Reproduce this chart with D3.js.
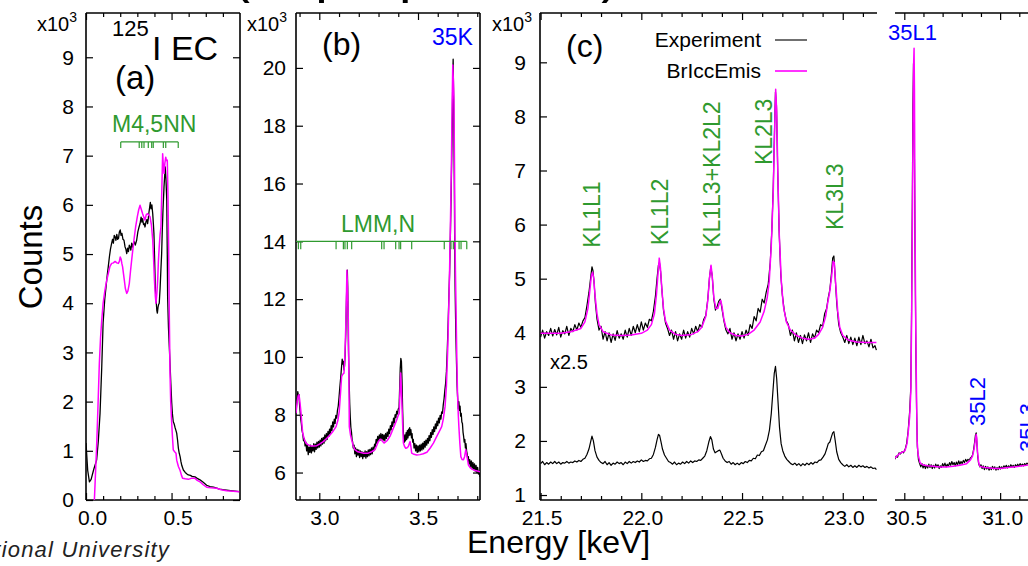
<!DOCTYPE html>
<html><head><meta charset="utf-8">
<script src="https://cdn.jsdelivr.net/npm/d3@7"></script>
<style>body{margin:0;background:#fff}svg{display:block}</style>
</head><body>
<script>
// ---------- DATA (energy keV, counts x10^3) ----------
const aExp = [[0.000,1.16],[0.010,0.60],[0.020,0.37],[0.030,0.42],[0.045,0.62],[0.062,0.81],[0.072,1.20],[0.082,1.76],[0.092,2.70],[0.100,3.60],[0.110,4.10],[0.117,4.33],[0.125,4.60],[0.130,4.74],[0.137,4.95],[0.143,5.10],[0.150,5.22],[0.155,5.30],[0.160,5.22],[0.165,5.38],[0.170,5.35],[0.175,5.28],[0.180,5.40],[0.185,5.30],[0.190,5.32],[0.195,5.45],[0.200,5.49],[0.205,5.38],[0.210,5.42],[0.216,5.30],[0.222,5.28],[0.228,5.15],[0.233,5.10],[0.238,5.01],[0.243,5.12],[0.248,5.05],[0.253,5.18],[0.257,5.15],[0.262,5.08],[0.267,5.22],[0.272,5.14],[0.276,5.20],[0.282,5.25],[0.288,5.18],[0.296,5.28],[0.303,5.45],[0.310,5.55],[0.316,5.62],[0.322,5.75],[0.327,5.65],[0.331,5.72],[0.336,5.60],[0.340,5.62],[0.345,5.55],[0.350,5.65],[0.356,5.70],[0.360,5.62],[0.364,5.72],[0.368,5.85],[0.372,5.95],[0.376,6.05],[0.380,5.92],[0.385,6.00],[0.390,5.82],[0.394,5.60],[0.397,5.42],[0.401,4.90],[0.405,4.33],[0.410,4.05],[0.414,3.85],[0.417,3.80],[0.421,3.92],[0.425,3.98],[0.428,4.00],[0.433,4.30],[0.438,4.70],[0.442,5.00],[0.446,5.50],[0.450,5.90],[0.456,6.37],[0.460,6.60],[0.463,6.77],[0.467,6.55],[0.472,6.10],[0.475,5.00],[0.477,4.13],[0.482,3.50],[0.487,3.10],[0.491,2.78],[0.496,2.35],[0.501,1.97],[0.505,1.75],[0.510,1.59],[0.515,1.55],[0.520,1.48],[0.525,1.42],[0.530,1.36],[0.535,1.22],[0.540,1.05],[0.545,0.95],[0.550,0.88],[0.555,0.78],[0.560,0.70],[0.569,0.61],[0.580,0.56],[0.590,0.53],[0.598,0.51],[0.610,0.50],[0.620,0.48],[0.637,0.47],[0.650,0.44],[0.666,0.41],[0.685,0.36],[0.705,0.30],[0.725,0.27],[0.745,0.26],[0.764,0.24],[0.780,0.22],[0.800,0.21],[0.822,0.20],[0.845,0.19],[0.870,0.18],[0.896,0.17]];
const aCalc = [[0.049,0.00],[0.055,0.50],[0.062,1.08],[0.070,1.90],[0.078,2.78],[0.085,3.30],[0.092,3.66],[0.100,4.00],[0.111,4.27],[0.120,4.45],[0.130,4.60],[0.140,4.75],[0.150,4.81],[0.160,4.82],[0.170,4.85],[0.180,4.82],[0.189,4.81],[0.195,4.85],[0.200,4.94],[0.205,4.90],[0.210,4.80],[0.214,4.74],[0.219,4.60],[0.224,4.47],[0.230,4.30],[0.238,4.20],[0.245,4.25],[0.253,4.40],[0.260,4.65],[0.267,4.88],[0.274,5.10],[0.280,5.28],[0.290,5.55],[0.300,5.76],[0.308,5.90],[0.316,5.99],[0.322,5.92],[0.331,5.82],[0.338,5.75],[0.345,5.69],[0.352,5.80],[0.358,5.82],[0.365,5.80],[0.374,5.76],[0.382,5.60],[0.390,5.28],[0.395,4.90],[0.400,4.47],[0.405,4.15],[0.409,4.00],[0.414,4.20],[0.419,4.47],[0.423,4.85],[0.428,5.15],[0.433,5.40],[0.438,5.55],[0.443,6.30],[0.448,7.04],[0.452,6.80],[0.456,6.64],[0.461,6.85],[0.466,6.97],[0.470,6.90],[0.475,6.91],[0.479,6.20],[0.483,5.15],[0.487,3.70],[0.491,2.58],[0.495,2.00],[0.500,1.62],[0.505,1.30],[0.510,1.02],[0.518,0.98],[0.526,0.95],[0.530,0.81],[0.540,0.68],[0.550,0.60],[0.558,0.50],[0.565,0.44],[0.580,0.43],[0.598,0.42],[0.615,0.44],[0.637,0.44],[0.650,0.40],[0.666,0.37],[0.685,0.31],[0.705,0.26],[0.730,0.25],[0.764,0.24],[0.790,0.21],[0.822,0.19],[0.860,0.18],[0.896,0.17]];

const bExp = [[2.882,8.05],[2.885,8.35],[2.888,8.55],[2.891,8.80],[2.894,8.62],[2.897,8.70],[2.900,8.35],[2.903,8.10],[2.906,7.85],[2.909,7.70],[2.912,7.48],[2.916,7.35],[2.920,7.10],[2.924,7.18],[2.928,6.92],[2.932,7.05],[2.936,6.75],[2.940,6.95],[2.944,6.62],[2.948,6.88],[2.952,6.70],[2.956,6.95],[2.960,6.68],[2.964,6.90],[2.968,6.75],[2.972,7.00],[2.976,6.72],[2.980,6.98],[2.984,6.80],[2.988,7.05],[2.992,6.85],[2.996,7.08],[3.000,6.88],[3.004,7.12],[3.008,6.92],[3.012,7.18],[3.016,6.98],[3.020,7.22],[3.024,7.02],[3.028,7.30],[3.032,7.10],[3.036,7.35],[3.040,7.15],[3.044,7.42],[3.048,7.25],[3.052,7.50],[3.056,7.35],[3.060,7.62],[3.064,7.45],[3.068,7.75],[3.072,7.58],[3.076,7.85],[3.080,7.70],[3.084,7.98],[3.088,7.88],[3.092,8.15],[3.096,8.30],[3.100,8.60],[3.104,8.95],[3.108,9.25],[3.112,9.60],[3.116,9.92],[3.119,9.75],[3.122,9.85],[3.125,9.55],[3.128,9.70],[3.131,10.10],[3.134,10.80],[3.137,11.80],[3.140,12.70],[3.142,13.00],[3.144,12.40],[3.146,11.30],[3.148,10.20],[3.151,9.20],[3.154,8.40],[3.157,7.90],[3.160,7.55],[3.163,7.40],[3.166,7.15],[3.169,7.05],[3.172,6.85],[3.176,6.95],[3.180,6.65],[3.184,6.85],[3.188,6.55],[3.192,6.80],[3.196,6.60],[3.200,6.78],[3.204,6.52],[3.208,6.75],[3.212,6.55],[3.216,6.72],[3.220,6.48],[3.224,6.70],[3.228,6.55],[3.232,6.75],[3.236,6.50],[3.240,6.72],[3.244,6.55],[3.248,6.78],[3.252,6.58],[3.256,6.80],[3.260,6.62],[3.264,6.85],[3.268,6.65],[3.272,6.88],[3.276,6.75],[3.280,6.98],[3.284,6.90],[3.288,7.15],[3.292,7.02],[3.296,7.25],[3.300,7.08],[3.304,7.30],[3.308,7.12],[3.312,7.35],[3.316,7.15],[3.320,7.32],[3.324,7.12],[3.328,7.30],[3.332,7.10],[3.336,7.35],[3.340,7.18],[3.344,7.40],[3.348,7.25],[3.352,7.50],[3.356,7.35],[3.360,7.62],[3.364,7.48],[3.368,7.75],[3.372,7.60],[3.376,7.88],[3.380,7.72],[3.384,8.00],[3.388,7.90],[3.392,8.12],[3.396,8.02],[3.400,8.20],[3.404,8.25],[3.407,8.90],[3.410,9.60],[3.413,9.95],[3.416,9.85],[3.419,9.20],[3.422,8.20],[3.425,7.50],[3.428,7.15],[3.431,7.05],[3.434,7.30],[3.437,7.10],[3.440,7.38],[3.443,7.15],[3.446,7.45],[3.449,7.20],[3.452,7.50],[3.455,7.28],[3.458,7.55],[3.461,7.30],[3.464,7.48],[3.467,7.20],[3.470,7.35],[3.473,7.05],[3.476,7.15],[3.480,6.85],[3.484,7.00],[3.488,6.75],[3.492,6.95],[3.496,6.70],[3.500,6.92],[3.504,6.72],[3.508,6.95],[3.512,6.75],[3.516,6.98],[3.520,6.78],[3.524,7.02],[3.528,6.82],[3.532,7.08],[3.536,6.88],[3.540,7.12],[3.544,6.95],[3.548,7.18],[3.552,7.02],[3.556,7.28],[3.560,7.10],[3.564,7.38],[3.568,7.22],[3.572,7.48],[3.576,7.32],[3.580,7.58],[3.584,7.42],[3.588,7.68],[3.592,7.52],[3.596,7.78],[3.600,7.62],[3.604,7.88],[3.608,7.72],[3.612,7.98],[3.616,7.85],[3.620,8.10],[3.624,8.05],[3.628,8.35],[3.632,8.55],[3.636,8.85],[3.640,9.10],[3.644,9.50],[3.648,10.20],[3.652,11.00],[3.656,12.00],[3.660,12.90],[3.664,14.20],[3.668,15.70],[3.671,17.00],[3.674,18.30],[3.676,19.60],[3.678,20.30],[3.680,19.20],[3.682,17.70],[3.684,16.00],[3.686,13.80],[3.688,12.40],[3.690,11.50],[3.692,10.70],[3.695,9.80],[3.698,9.00],[3.701,8.55],[3.704,8.20],[3.707,8.45],[3.710,8.15],[3.713,8.30],[3.716,7.95],[3.719,8.05],[3.722,7.75],[3.725,7.70],[3.728,7.40],[3.731,7.25],[3.734,7.05],[3.737,7.15],[3.740,6.85],[3.743,7.00],[3.746,6.75],[3.749,6.65],[3.752,6.45],[3.755,6.55],[3.758,6.30],[3.762,6.45],[3.766,6.20],[3.770,6.40],[3.774,6.15],[3.778,6.35],[3.782,6.10],[3.786,6.30],[3.790,6.05],[3.794,6.25],[3.798,6.00],[3.802,6.18],[3.806,5.95],[3.810,6.05],[3.814,5.85]];
const bCalc = [[2.882,8.05],[2.888,8.45],[2.893,8.65],[2.897,8.69],[2.900,8.55],[2.906,8.17],[2.911,7.75],[2.916,7.36],[2.924,7.15],[2.933,7.02],[2.943,6.96],[2.953,6.93],[2.970,6.92],[2.987,6.93],[3.003,6.99],[3.020,7.07],[3.037,7.18],[3.054,7.30],[3.070,7.43],[3.085,7.59],[3.094,7.80],[3.101,8.11],[3.107,8.70],[3.113,9.32],[3.119,9.40],[3.125,9.44],[3.130,10.10],[3.135,11.28],[3.138,12.30],[3.140,13.00],[3.143,12.40],[3.147,11.28],[3.150,9.30],[3.152,7.59],[3.158,7.30],[3.164,7.13],[3.172,6.92],[3.180,6.79],[3.192,6.73],[3.205,6.70],[3.225,6.67],[3.248,6.67],[3.265,6.72],[3.282,6.79],[3.290,6.92],[3.299,7.07],[3.306,7.14],[3.313,7.15],[3.320,7.08],[3.328,7.02],[3.343,7.10],[3.358,7.25],[3.370,7.45],[3.382,7.65],[3.392,7.82],[3.400,7.98],[3.405,8.05],[3.409,8.90],[3.412,9.44],[3.415,9.00],[3.419,8.28],[3.423,7.50],[3.426,7.02],[3.432,6.90],[3.438,6.84],[3.445,6.86],[3.451,6.90],[3.456,7.00],[3.460,7.07],[3.464,6.90],[3.468,6.67],[3.480,6.63],[3.493,6.61],[3.510,6.62],[3.527,6.65],[3.545,6.70],[3.561,6.84],[3.578,7.02],[3.595,7.25],[3.610,7.45],[3.620,7.59],[3.628,7.85],[3.637,8.28],[3.644,9.00],[3.651,10.36],[3.655,11.50],[3.659,12.66],[3.664,14.50],[3.669,16.58],[3.673,18.80],[3.676,20.10],[3.679,19.60],[3.682,18.90],[3.685,16.50],[3.687,14.28],[3.690,12.80],[3.693,11.50],[3.697,9.80],[3.700,8.74],[3.704,8.00],[3.707,7.59],[3.712,7.00],[3.717,6.55],[3.723,6.45],[3.730,6.44],[3.736,6.55],[3.742,6.79],[3.747,6.60],[3.755,6.27],[3.763,6.18],[3.772,6.12],[3.790,6.07],[3.814,6.03]];

const cExp = [[21.500,3.92],[21.510,4.05],[21.520,3.90],[21.530,4.02],[21.540,3.95],[21.550,4.08],[21.560,3.94],[21.570,4.06],[21.580,3.96],[21.590,4.10],[21.600,3.92],[21.610,4.04],[21.620,3.98],[21.630,4.12],[21.640,3.95],[21.650,4.08],[21.660,4.02],[21.670,4.15],[21.680,4.05],[21.690,4.18],[21.700,4.10],[21.710,4.22],[21.720,4.28],[21.730,4.50],[21.740,4.75],[21.748,5.00],[21.755,5.22],[21.760,5.15],[21.766,4.90],[21.772,4.55],[21.780,4.25],[21.790,4.05],[21.800,4.12],[21.810,3.88],[21.820,4.02],[21.830,3.85],[21.840,4.00],[21.850,3.82],[21.860,3.98],[21.870,3.86],[21.880,4.04],[21.890,3.90],[21.900,3.98],[21.910,3.88],[21.920,4.05],[21.930,3.92],[21.940,4.08],[21.950,3.95],[21.960,4.12],[21.970,4.00],[21.980,4.15],[21.990,4.02],[22.000,4.20],[22.010,4.05],[22.020,4.18],[22.030,4.10],[22.040,4.25],[22.050,4.22],[22.060,4.40],[22.070,4.68],[22.078,5.00],[22.085,5.25],[22.090,5.30],[22.096,5.12],[22.102,4.80],[22.110,4.42],[22.120,4.18],[22.130,4.08],[22.140,3.95],[22.150,4.05],[22.160,3.88],[22.170,4.02],[22.180,3.85],[22.190,3.98],[22.200,3.88],[22.210,4.05],[22.220,3.90],[22.230,4.02],[22.240,3.92],[22.250,4.08],[22.260,3.98],[22.270,4.12],[22.280,4.02],[22.290,4.15],[22.300,4.10],[22.310,4.25],[22.320,4.32],[22.330,4.62],[22.338,5.00],[22.345,5.22],[22.352,5.05],[22.360,4.62],[22.368,4.42],[22.376,4.48],[22.384,4.58],[22.392,4.62],[22.400,4.45],[22.410,4.22],[22.420,4.05],[22.430,3.98],[22.440,4.08],[22.450,3.88],[22.460,4.00],[22.470,3.85],[22.480,3.98],[22.490,3.88],[22.500,4.02],[22.510,3.90],[22.520,4.05],[22.530,3.95],[22.540,4.15],[22.550,4.08],[22.560,4.30],[22.570,4.22],[22.580,4.45],[22.590,4.38],[22.600,4.62],[22.610,4.55],[22.620,4.75],[22.630,4.90],[22.640,5.30],[22.648,5.90],[22.655,6.70],[22.661,7.70],[22.666,8.45],[22.671,8.20],[22.677,7.00],[22.684,5.90],[22.692,5.10],[22.700,4.70],[22.710,4.40],[22.720,4.22],[22.730,4.15],[22.740,3.95],[22.750,4.05],[22.760,3.85],[22.770,4.00],[22.780,3.82],[22.790,3.95],[22.800,3.80],[22.810,3.96],[22.820,3.85],[22.830,4.00],[22.840,3.82],[22.850,3.98],[22.860,3.90],[22.870,4.05],[22.880,4.00],[22.890,4.15],[22.900,4.12],[22.910,4.35],[22.920,4.45],[22.928,4.65],[22.936,4.80],[22.944,5.10],[22.950,5.38],[22.956,5.42],[22.962,5.05],[22.970,4.55],[22.980,4.15],[22.990,4.00],[23.000,3.92],[23.010,3.82],[23.020,3.95],[23.030,3.80],[23.040,3.92],[23.050,3.78],[23.060,3.90],[23.070,3.76],[23.080,3.92],[23.090,3.78],[23.100,3.95],[23.110,3.80],[23.120,3.85],[23.130,3.74],[23.140,3.88],[23.150,3.72],[23.160,3.76],[23.167,3.68]];
const cCalc = [[21.500,3.99],[21.600,3.99],[21.650,4.02],[21.700,4.08],[21.720,4.20],[21.735,4.45],[21.745,4.80],[21.752,5.05],[21.758,5.12],[21.764,5.00],[21.770,4.70],[21.780,4.35],[21.790,4.15],[21.810,4.02],[21.850,3.96],[21.900,3.95],[21.950,3.96],[22.000,3.99],[22.030,4.05],[22.050,4.15],[22.065,4.35],[22.075,4.70],[22.083,5.10],[22.089,5.38],[22.095,5.20],[22.102,4.80],[22.110,4.45],[22.120,4.22],[22.140,4.05],[22.170,3.97],[22.200,3.95],[22.250,3.97],[22.280,4.02],[22.300,4.10],[22.320,4.30],[22.330,4.60],[22.338,5.00],[22.346,5.25],[22.352,5.05],[22.360,4.65],[22.370,4.45],[22.380,4.45],[22.387,4.55],[22.394,4.60],[22.400,4.50],[22.410,4.25],[22.420,4.10],[22.440,4.00],[22.470,3.95],[22.500,3.94],[22.530,3.97],[22.560,4.05],[22.590,4.20],[22.610,4.40],[22.625,4.65],[22.635,4.95],[22.645,5.60],[22.655,6.60],[22.662,7.80],[22.667,8.50],[22.672,8.10],[22.678,6.90],[22.685,5.80],[22.695,4.95],[22.705,4.50],[22.720,4.20],[22.740,4.05],[22.770,3.95],[22.800,3.90],[22.830,3.88],[22.860,3.90],[22.880,3.97],[22.900,4.10],[22.915,4.30],[22.925,4.55],[22.935,4.75],[22.945,5.05],[22.952,5.32],[22.958,5.30],[22.965,4.90],[22.975,4.40],[22.985,4.10],[23.000,3.95],[23.030,3.86],[23.070,3.83],[23.120,3.82],[23.167,3.82]];
const cExpScaled = [[21.500,1.58],[21.510,1.62],[21.520,1.56],[21.530,1.60],[21.540,1.57],[21.550,1.61],[21.560,1.58],[21.570,1.62],[21.580,1.58],[21.590,1.61],[21.600,1.57],[21.610,1.60],[21.620,1.59],[21.630,1.62],[21.640,1.59],[21.650,1.61],[21.660,1.60],[21.670,1.63],[21.680,1.61],[21.690,1.64],[21.700,1.62],[21.710,1.66],[21.720,1.68],[21.730,1.75],[21.740,1.85],[21.748,1.98],[21.755,2.09],[21.762,2.00],[21.770,1.82],[21.780,1.70],[21.790,1.64],[21.800,1.60],[21.810,1.58],[21.820,1.62],[21.830,1.56],[21.840,1.60],[21.850,1.55],[21.860,1.59],[21.870,1.57],[21.880,1.61],[21.890,1.58],[21.900,1.60],[21.910,1.56],[21.920,1.61],[21.930,1.58],[21.940,1.62],[21.950,1.59],[21.960,1.62],[21.970,1.60],[21.980,1.63],[21.990,1.61],[22.000,1.65],[22.010,1.62],[22.020,1.64],[22.030,1.63],[22.040,1.67],[22.050,1.68],[22.060,1.75],[22.070,1.88],[22.078,2.02],[22.085,2.12],[22.091,2.10],[22.098,1.98],[22.105,1.85],[22.115,1.74],[22.125,1.68],[22.135,1.62],[22.145,1.60],[22.155,1.57],[22.165,1.61],[22.175,1.56],[22.185,1.59],[22.195,1.57],[22.205,1.61],[22.215,1.58],[22.225,1.62],[22.235,1.59],[22.245,1.63],[22.255,1.60],[22.265,1.63],[22.275,1.62],[22.285,1.65],[22.295,1.64],[22.305,1.68],[22.315,1.72],[22.325,1.82],[22.335,1.98],[22.343,2.08],[22.350,2.02],[22.358,1.85],[22.366,1.78],[22.374,1.80],[22.382,1.82],[22.390,1.83],[22.398,1.76],[22.406,1.68],[22.416,1.63],[22.426,1.60],[22.436,1.62],[22.446,1.57],[22.456,1.60],[22.466,1.56],[22.476,1.59],[22.486,1.56],[22.496,1.60],[22.506,1.58],[22.516,1.62],[22.526,1.60],[22.536,1.64],[22.546,1.63],[22.556,1.68],[22.566,1.67],[22.576,1.74],[22.586,1.73],[22.596,1.80],[22.606,1.82],[22.616,1.92],[22.626,2.02],[22.636,2.20],[22.645,2.50],[22.653,2.90],[22.660,3.25],[22.666,3.38],[22.672,3.15],[22.679,2.70],[22.686,2.25],[22.694,1.95],[22.702,1.82],[22.712,1.72],[22.722,1.66],[22.732,1.62],[22.742,1.58],[22.752,1.56],[22.762,1.59],[22.772,1.55],[22.782,1.58],[22.792,1.54],[22.802,1.58],[22.812,1.55],[22.822,1.59],[22.832,1.56],[22.842,1.60],[22.852,1.57],[22.862,1.61],[22.872,1.60],[22.882,1.64],[22.892,1.65],[22.902,1.70],[22.912,1.76],[22.920,1.85],[22.928,1.95],[22.936,1.98],[22.944,2.08],[22.950,2.15],[22.956,2.17],[22.962,2.02],[22.970,1.80],[22.980,1.66],[22.990,1.60],[23.000,1.56],[23.010,1.53],[23.020,1.56],[23.030,1.52],[23.040,1.55],[23.050,1.51],[23.060,1.54],[23.070,1.51],[23.080,1.55],[23.090,1.52],[23.100,1.54],[23.110,1.51],[23.120,1.53],[23.130,1.50],[23.140,1.52],[23.150,1.49],[23.160,1.50],[23.167,1.47]];

const dExp = [[30.451,1.66],[30.458,1.72],[30.465,1.70],[30.472,1.78],[30.480,1.76],[30.488,1.80],[30.496,1.78],[30.504,1.84],[30.512,1.95],[30.520,2.18],[30.528,2.55],[30.534,3.00],[30.538,4.40],[30.542,6.50],[30.545,8.20],[30.548,8.98],[30.550,8.60],[30.553,7.20],[30.556,5.60],[30.560,3.80],[30.564,2.60],[30.568,1.90],[30.574,1.65],[30.580,1.58],[30.586,1.52],[30.592,1.58],[30.598,1.50],[30.604,1.56],[30.610,1.49],[30.616,1.55],[30.622,1.50],[30.628,1.57],[30.634,1.51],[30.640,1.56],[30.646,1.49],[30.652,1.55],[30.658,1.50],[30.664,1.57],[30.670,1.52],[30.676,1.56],[30.682,1.49],[30.688,1.54],[30.694,1.51],[30.700,1.58],[30.706,1.53],[30.712,1.59],[30.718,1.52],[30.724,1.57],[30.730,1.53],[30.736,1.60],[30.742,1.55],[30.748,1.62],[30.754,1.56],[30.760,1.60],[30.766,1.54],[30.772,1.61],[30.778,1.56],[30.784,1.63],[30.790,1.57],[30.796,1.62],[30.802,1.58],[30.808,1.64],[30.814,1.60],[30.820,1.66],[30.826,1.62],[30.832,1.66],[30.838,1.64],[30.844,1.68],[30.850,1.70],[30.856,1.74],[30.862,1.85],[30.867,1.98],[30.871,2.10],[30.875,2.15],[30.879,1.95],[30.883,1.72],[30.888,1.58],[30.894,1.52],[30.900,1.56],[30.906,1.49],[30.912,1.54],[30.918,1.47],[30.924,1.53],[30.930,1.48],[30.936,1.52],[30.942,1.46],[30.948,1.51],[30.954,1.47],[30.960,1.53],[30.966,1.48],[30.972,1.52],[30.978,1.46],[30.984,1.51],[30.990,1.47],[30.996,1.53],[31.002,1.48],[31.008,1.52],[31.014,1.49],[31.020,1.54],[31.026,1.50],[31.032,1.55],[31.038,1.50],[31.044,1.54],[31.050,1.51],[31.056,1.56],[31.062,1.52],[31.068,1.55],[31.074,1.51],[31.080,1.56],[31.086,1.53],[31.092,1.57],[31.098,1.53],[31.104,1.58],[31.110,1.54],[31.116,1.57],[31.122,1.54],[31.128,1.58],[31.134,1.56],[31.140,1.59],[31.146,1.57],[31.152,1.60],[31.160,1.58]];
const dCalc = [[30.451,1.68],[30.465,1.73],[30.476,1.77],[30.490,1.79],[30.504,1.82],[30.514,1.95],[30.520,2.14],[30.528,2.45],[30.534,2.90],[30.538,4.20],[30.542,6.00],[30.546,8.00],[30.549,9.00],[30.551,9.26],[30.553,8.50],[30.556,6.00],[30.560,4.00],[30.564,2.80],[30.567,2.00],[30.572,1.75],[30.582,1.60],[30.595,1.56],[30.620,1.54],[30.650,1.53],[30.686,1.52],[30.720,1.52],[30.755,1.53],[30.790,1.55],[30.825,1.58],[30.845,1.65],[30.856,1.72],[30.864,1.85],[30.870,2.00],[30.875,2.12],[30.878,2.05],[30.882,1.80],[30.888,1.60],[30.894,1.53],[30.920,1.51],[30.946,1.50],[30.975,1.49],[30.999,1.49],[31.040,1.51],[31.068,1.52],[31.100,1.53],[31.138,1.55],[31.170,1.57],[31.200,1.60]];

// transition markers
const m45Range = [0.203, 0.539];
const m45Lines = [0.311, 0.326, 0.339, 0.364, 0.384, 0.393, 0.452, 0.466];
const m45Level = 7.28;
const lmmLines = [2.894, 2.906, 3.085, 3.122, 3.130, 3.142, 3.164, 3.316, 3.328, 3.387, 3.404, 3.412, 3.468, 3.633, 3.667, 3.679, 3.708, 3.718, 3.747];
const lmmLevel = 14.0;
const klLabels = ["KL1L1", "KL1L2", "KL1L3+KL2L2", "KL2L3", "KL3L3"];
const klLabelE = [21.795, 22.133, 22.391, 22.649, 23.001];
const klLabelC = [5.57, 5.62, 5.57, 7.10, 5.90];

// ticks
const aYTicks = [0,1,2,3,4,5,6,7,8,9];
const aXMajor = [0.0, 0.5];
const aXMinor = [0.1,0.2,0.3,0.4,0.6,0.7,0.8];
const aXLabels = ["0.0","0.5"];
const bYTicks = [6,8,10,12,14,16,18,20];
const bXMajor = [3.0, 3.5];
const bXMinor = [2.9,3.1,3.2,3.3,3.4,3.6,3.7,3.8];
const bXLabels = ["3.0","3.5"];
const cYTicks = [1,2,3,4,5,6,7,8,9];
const cXMajor = [21.5, 22.0, 22.5, 23.0];
const cXMinor = [21.6,21.7,21.8,21.9,22.1,22.2,22.3,22.4,22.6,22.7,22.8,22.9,23.1];
const cXLabels = ["21.5","22.0","22.5","23.0"];
const dXMajor = [30.5, 31.0];
const dXMinor = [30.6,30.7,30.8,30.9,31.1,31.2,31.3,31.4];
const dXLabels = ["30.5","31.0"];

// ---------- DRAW ----------
const FONT = "'Liberation Sans', Arial, Helvetica, sans-serif";
const W = 1028, H = 566, TOP = 13, BOT = 500;
const svg = d3.select("body").append("svg").attr("width", W).attr("height", H)
  .attr("font-family", FONT);
svg.append("rect").attr("width", W).attr("height", H).attr("fill", "#fff");
const defs = svg.append("defs");

const panels = [
  {id:"a", x0:86, x1:240, xd:[0,0.9], yd:[0,9.9], yT:aYTicks, maj:aXMajor, min:aXMinor, lab:aXLabels, dx:6, gap:12, L:true, R:true},
  {id:"b", x0:296, x1:480, xd:[2.882,3.814], yd:[5.05,21.9], yT:bYTicks, maj:bXMajor, min:bXMinor, lab:bXLabels, dx:5, gap:10, L:true, R:true},
  {id:"c", x0:540, x1:877, xd:[21.497,23.17], yd:[0.908,9.912], yT:cYTicks, maj:cXMajor, min:cXMinor, lab:cXLabels, dx:1, gap:14, L:true, R:false},
  {id:"d", x0:895, x1:1095, xd:[30.4515,31.495], yd:[0.908,9.912], yT:null, maj:dXMajor, min:dXMinor, lab:dXLabels, dx:2, gap:0, L:false, R:false}
];
panels.forEach(p => {
  p.x = d3.scaleLinear().domain(p.xd).range([p.x0, p.x1]);
  p.y = d3.scaleLinear().domain(p.yd).range([BOT, TOP]);
  defs.append("clipPath").attr("id", "clip-" + p.id)
    .append("rect").attr("x", p.x0).attr("y", TOP).attr("width", p.x1 - p.x0).attr("height", BOT - TOP);
});

function styleAxis(g, size) {
  g.attr("font-family", FONT).attr("font-size", size);
  g.select(".domain").remove();
  g.selectAll("line").attr("stroke", "#000").attr("stroke-width", 1.2);
  g.selectAll("text").attr("fill", "#000");
}

panels.forEach(p => {
  const gb = svg.append("g").attr("transform", `translate(0,${BOT})`)
    .call(d3.axisBottom(p.x).tickValues(p.maj).tickSize(-7).tickPadding(10).tickFormat((d,i) => p.lab[i]));
  styleAxis(gb, 21); gb.selectAll("text").attr("dx", p.dx);
  const gbm = svg.append("g").attr("transform", `translate(0,${BOT})`)
    .call(d3.axisBottom(p.x).tickValues(p.min).tickSize(-4).tickFormat(""));
  styleAxis(gbm, 21);
  const gt = svg.append("g").attr("transform", `translate(0,${TOP})`)
    .call(d3.axisTop(p.x).tickValues(p.maj).tickSize(-7).tickFormat(""));
  styleAxis(gt, 21);
  const gtm = svg.append("g").attr("transform", `translate(0,${TOP})`)
    .call(d3.axisTop(p.x).tickValues(p.min).tickSize(-4).tickFormat(""));
  styleAxis(gtm, 21);
  if (p.L) {
    const gl = svg.append("g").attr("transform", `translate(${p.x0},0)`)
      .call(d3.axisLeft(p.y).tickValues(p.yT).tickSize(-7).tickPadding(p.gap).tickFormat(d3.format("d")));
    styleAxis(gl, 21);
  }
  if (p.R) {
    const gr = svg.append("g").attr("transform", `translate(${p.x1},0)`)
      .call(d3.axisRight(p.y).tickValues(p.yT).tickSize(-7).tickFormat(""));
    styleAxis(gr, 21);
  }
  const fr = svg.append("g").attr("stroke", "#000").attr("stroke-width", 1.6).attr("fill", "none");
  fr.append("line").attr("x1", p.x0).attr("x2", p.x1).attr("y1", TOP).attr("y2", TOP);
  fr.append("line").attr("x1", p.x0).attr("x2", p.x1).attr("y1", BOT).attr("y2", BOT);
  if (p.L) fr.append("line").attr("x1", p.x0).attr("x2", p.x0).attr("y1", TOP).attr("y2", BOT);
  if (p.R) fr.append("line").attr("x1", p.x1).attr("x2", p.x1).attr("y1", TOP).attr("y2", BOT);
});

function drawLine(p, data, color, width) {
  const line = d3.line().x(d => p.x(d[0])).y(d => p.y(d[1]));
  svg.append("path").datum(data).attr("clip-path", `url(#clip-${p.id})`)
    .attr("fill", "none").attr("stroke", color).attr("stroke-width", width)
    .attr("stroke-linejoin", "round").attr("d", line);
}
const [pa, pb, pc, pd] = panels;
const BLACK = "#000", MAG = "#ff00ff", GREEN = "#2f9a2f", BLUE = "#0000ff";
drawLine(pa, aExp, BLACK, 1.3); drawLine(pa, aCalc, MAG, 1.5);
drawLine(pb, bExp, BLACK, 1.3); drawLine(pb, bCalc, MAG, 1.5);
drawLine(pc, cExpScaled, BLACK, 1.2);
drawLine(pc, cExp, BLACK, 1.2); drawLine(pc, cCalc, MAG, 1.5);
drawLine(pd, dExp, BLACK, 1.2); drawLine(pd, dCalc, MAG, 1.5);

// M4,5NN bracket
const gm = svg.append("g").attr("stroke", GREEN).attr("stroke-width", 1.2).attr("fill", "none");
const my = pa.y(m45Level);
gm.append("line").attr("x1", pa.x(m45Range[0])).attr("x2", pa.x(m45Range[1])).attr("y1", my).attr("y2", my);
m45Range.concat(m45Lines).forEach(e => gm.append("line").attr("x1", pa.x(e)).attr("x2", pa.x(e)).attr("y1", my).attr("y2", my + 6));
svg.append("text").attr("x", 112).attr("y", 132).attr("font-size", 23).attr("fill", GREEN).text("M4,5NN");

// LMM,N markers
const gl2 = svg.append("g").attr("stroke", GREEN).attr("stroke-width", 1.2).attr("fill", "none");
const ly = pb.y(lmmLevel);
gl2.append("line").attr("x1", pb.x0).attr("x2", pb.x(lmmLines[lmmLines.length - 1])).attr("y1", ly).attr("y2", ly);
lmmLines.forEach(e => gl2.append("line").attr("x1", pb.x(e)).attr("x2", pb.x(e)).attr("y1", ly).attr("y2", ly + 8));
svg.append("text").attr("x", 341).attr("y", 232).attr("font-size", 23).attr("fill", GREEN).text("LMM,N");

// KL labels (rotated)
klLabels.forEach((t, i) => {
  const x = pc.x(klLabelE[i]), y = pc.y(klLabelC[i]);
  svg.append("text").attr("transform", `translate(${x},${y}) rotate(-90)`)
    .attr("font-size", 23).attr("fill", GREEN).text(t);
});

// Blue labels
svg.append("text").attr("x", 432).attr("y", 45).attr("font-size", 23).attr("fill", BLUE).text("35K");
svg.append("text").attr("x", 888).attr("y", 40).attr("font-size", 22).attr("fill", BLUE).text("35L1");
svg.append("text").attr("transform", "translate(985,426) rotate(-90)").attr("font-size", 22).attr("fill", BLUE).text("35L2");
svg.append("text").attr("transform", "translate(1035,452) rotate(-90)").attr("font-size", 22).attr("fill", BLUE).text("35L3");

// panel labels
svg.append("text").attr("x", 112).attr("y", 36).attr("font-size", 22).text("125");
svg.append("text").attr("x", 152).attr("y", 60).attr("font-size", 34).text("I EC");
svg.append("text").attr("x", 115).attr("y", 89).attr("font-size", 33).text("(a)");
svg.append("text").attr("x", 322).attr("y", 55).attr("font-size", 32).text("(b)");
svg.append("text").attr("x", 566).attr("y", 57).attr("font-size", 32).text("(c)");
svg.append("text").attr("x", 550).attr("y", 369).attr("font-size", 20).text("x2.5");

// x10^3
[37, 247, 492].forEach(x => {
  const t = svg.append("text").attr("x", x).attr("y", 31).attr("font-size", 20).text("x10");
  t.append("tspan").attr("dy", -9).attr("font-size", 14).text("3");
});

// legend
svg.append("text").attr("x", 761).attr("y", 47).attr("font-size", 21).attr("text-anchor", "end").text("Experiment");
svg.append("line").attr("x1", 775).attr("x2", 807).attr("y1", 40).attr("y2", 40).attr("stroke", "#222").attr("stroke-width", 1.3);
svg.append("text").attr("x", 761).attr("y", 78).attr("font-size", 21).attr("text-anchor", "end").text("BrIccEmis");
svg.append("line").attr("x1", 775).attr("x2", 807).attr("y1", 71).attr("y2", 71).attr("stroke", MAG).attr("stroke-width", 1.6);

// axis titles
svg.append("text").attr("transform", "translate(42,257) rotate(-90)").attr("text-anchor", "middle").attr("font-size", 33).text("Counts");
svg.append("text").attr("x", 467).attr("y", 553).attr("font-size", 32).text("Energy [keV]");

// slide fragments (title above the chart, mostly outside the picture)
const ttl = svg.append("text").attr("x", 88).attr("y", -9).attr("font-size", 56).text("Calc. (Expt. ");
ttl.append("tspan").attr("dx", 6).text("patterns)");
svg.append("text").attr("x", 170).attr("y", 557).attr("font-size", 22).attr("font-style", "italic")
  .attr("letter-spacing", 1.2).attr("text-anchor", "end").attr("fill", "#222").text("Australian National University");
</script>
</body></html>
